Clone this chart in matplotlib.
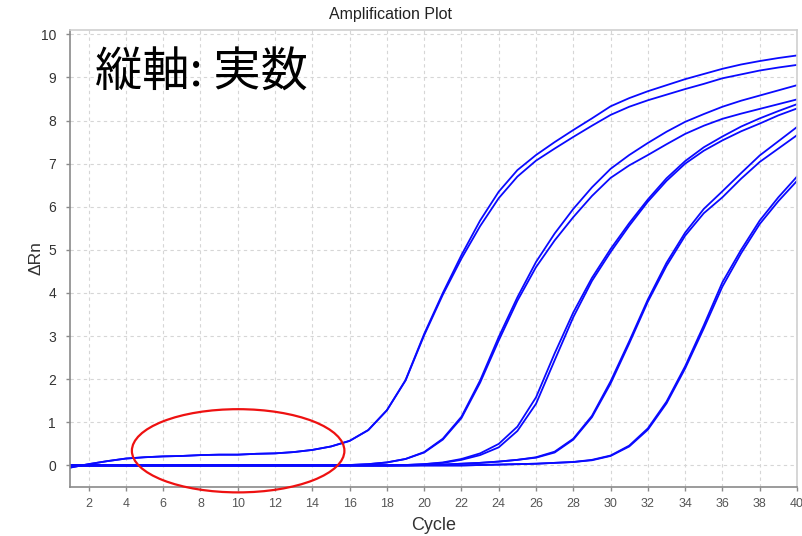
import numpy as np
import matplotlib
matplotlib.use("Agg")
import matplotlib.pyplot as plt
from matplotlib.patches import Ellipse

# Cycle numbers
cycles = list(range(1, 41))

# Delta Rn per cycle for each well (five dilution pairs)
a1 = [-0.05, 0.03, 0.10, 0.16, 0.19, 0.21, 0.22, 0.24, 0.25, 0.25,
      0.27, 0.28, 0.31, 0.36, 0.44, 0.57, 0.82, 1.28, 1.98, 3.05,
      4.00, 4.88, 5.68, 6.35, 6.85, 7.20, 7.50, 7.78, 8.05, 8.33,
      8.52, 8.68, 8.82, 8.96, 9.08, 9.20, 9.30, 9.38, 9.45, 9.51]
a2 = [-0.05, 0.03, 0.10, 0.16, 0.19, 0.21, 0.22, 0.24, 0.25, 0.25,
      0.27, 0.28, 0.31, 0.36, 0.44, 0.57, 0.82, 1.28, 1.97, 3.02,
      3.96, 4.80, 5.55, 6.20, 6.70, 7.07, 7.35, 7.62, 7.88, 8.13,
      8.32, 8.47, 8.60, 8.73, 8.85, 8.98, 9.07, 9.16, 9.23, 9.29]
b1 = [0.0] * 15 + [0.01, 0.03, 0.07, 0.15, 0.31, 0.62, 1.13, 1.97, 2.98, 3.90,
                   4.72, 5.38, 5.95, 6.45, 6.88, 7.20, 7.48, 7.74, 7.97, 8.15,
                   8.32, 8.46, 8.58, 8.70, 8.82]
b2 = [0.0] * 15 + [0.01, 0.03, 0.07, 0.15, 0.30, 0.60, 1.10, 1.92, 2.90, 3.82,
                   4.60, 5.22, 5.76, 6.25, 6.67, 6.96, 7.20, 7.45, 7.69, 7.88,
                   8.04, 8.16, 8.27, 8.38, 8.49]
c1 = [0.0] * 18 + [0.01, 0.03, 0.07, 0.15, 0.28, 0.50, 0.90, 1.58, 2.60, 3.55,
                   4.35, 5.02, 5.62, 6.17, 6.66, 7.06, 7.38, 7.63, 7.86, 8.05,
                   8.22, 8.38]
c2 = [0.0] * 18 + [0.01, 0.03, 0.06, 0.13, 0.24, 0.42, 0.80, 1.43, 2.44, 3.44,
                   4.28, 4.95, 5.56, 6.12, 6.60, 7.00, 7.30, 7.54, 7.75, 7.93,
                   8.12, 8.28]
d1 = [0.0] * 19 + [0.01, 0.02, 0.04, 0.06, 0.09, 0.13, 0.19, 0.32, 0.62, 1.15,
                   1.95, 2.88, 3.85, 4.70, 5.40, 5.95, 6.36, 6.78, 7.19, 7.52,
                   7.85]
d2 = [0.0] * 19 + [0.01, 0.02, 0.04, 0.06, 0.09, 0.13, 0.18, 0.30, 0.60, 1.12,
                   1.90, 2.83, 3.80, 4.63, 5.33, 5.85, 6.22, 6.65, 7.04, 7.35,
                   7.66]
e1 = [0.0] * 22 + [0.01, 0.02, 0.03, 0.04, 0.06, 0.08, 0.13, 0.23, 0.46, 0.86,
                   1.48, 2.30, 3.25, 4.25, 5.00, 5.68, 6.22, 6.70]
e2 = [0.0] * 22 + [0.01, 0.02, 0.03, 0.04, 0.06, 0.08, 0.12, 0.22, 0.44, 0.83,
                   1.44, 2.25, 3.18, 4.15, 4.92, 5.60, 6.13, 6.60]

wells = [a1, a2, b1, b2, c1, c2, d1, d2, e1, e2]

x_ticks = list(range(2, 41, 2))
y_ticks = list(range(0, 11))

fig = plt.figure(figsize=(8.03, 5.36), dpi=100)
ax = fig.add_axes([70 / 803, 49 / 536, 727 / 803, 457 / 536])

for w in wells:
    ax.plot(cycles, w, color="#0a0aff", lw=1.3, solid_joinstyle="round")

ax.set_xlim(1, 40)
ax.set_ylim(-0.5, 10.1)
ax.set_xticks(x_ticks)
ax.set_yticks(y_ticks)
ax.grid(True, color="#d6d6d6", linestyle=(0, (3, 3)), linewidth=0.8)
ax.set_axisbelow(True)

for side in ("left", "bottom"):
    ax.spines[side].set_color("#8a8a8a")
    ax.spines[side].set_linewidth(1.2)
for side in ("top", "right"):
    ax.spines[side].set_color("#cfcfcf")
    ax.spines[side].set_linewidth(1.2)

ax.tick_params(axis="both", direction="out", length=3, width=1, color="#8a8a8a")
ax.tick_params(axis="y", pad=7, labelsize=10, labelcolor="#333333")
ax.tick_params(axis="x", pad=5, labelsize=9, labelcolor="#555555")
for lbl in ax.get_xticklabels() + ax.get_yticklabels():
    lbl.set_family("Liberation Sans")

ax.set_xlabel("Cycle", fontsize=13, family="Liberation Sans", color="#333333", labelpad=5)
ax.set_ylabel("\u0394Rn", fontsize=12.5, family="Liberation Sans", color="#333333")
ax.yaxis.set_label_coords(-0.036, 0.5)

fig.text(391 / 803, 1 - 14 / 536, "Amplification Plot", ha="center", va="center",
         fontsize=11.5, family="Liberation Sans", color="#222222")

fig.text(95 / 803, 1 - 73 / 536, "縦軸: 実数", ha="left", va="center",
         fontsize=34, family=["Noto Sans CJK JP", "DejaVu Sans"], color="black")

ring = Ellipse((10.02, 0.34), width=11.4, height=1.93, fill=False,
               edgecolor="#ee1111", linewidth=1.6, clip_on=False, zorder=5)
ax.add_patch(ring)

fig.savefig("out.png", dpi=100)
